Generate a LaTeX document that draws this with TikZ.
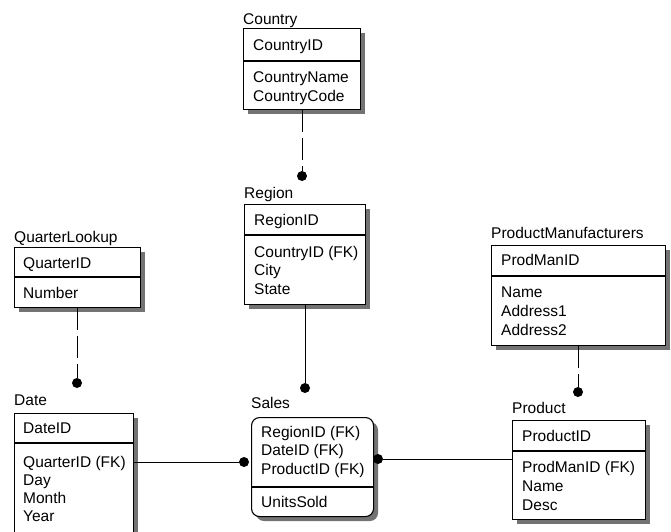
\documentclass[tikz,border=0pt]{standalone}
\usepackage{fontspec}
\setmainfont{Liberation Sans}
\begin{document}
\begin{tikzpicture}[x=1pt,y=-1pt,
  entity/.style={draw=black, fill=white, line width=1.1pt, inner sep=0pt, anchor=north west},
  shadowbox/.style={fill=black!55},
  title/.style={inner sep=0pt, anchor=base west, font=\fontsize{15.5}{18.5}\selectfont},
  field/.style={inner sep=0pt, anchor=base west, font=\fontsize{15.5}{18.5}\selectfont},
  divider/.style={line width=1.1pt},
  rel/.style={line width=1pt},
  relnon/.style={line width=1pt, dash pattern=on 22pt off 6pt},
  reldot/.style={circle, fill=black, inner sep=0pt, minimum size=10pt}]
\useasboundingbox (0,0) rectangle (671,531);
% ---------- shadows
\fill[shadowbox] (248,33) rectangle (365,114);
\fill[shadowbox] (249,209) rectangle (370,309);
\fill[shadowbox] (19,252) rectangle (145,312);
\fill[shadowbox] (19,418) rectangle (138,548);
\fill[shadowbox, rounded corners=8pt] (256,422) rectangle (378,521);
\fill[shadowbox] (496,250) rectangle (670,350);
\fill[shadowbox] (517,425) rectangle (650,524);
% ---------- Country
\node[title] (countryT) at (243,24) {Country};
\node[entity, minimum width=117pt, minimum height=81pt] (country) at (243,28) {};
\draw[divider] (country.west |- 0,61) -- (country.east |- 0,61);
\node[field] (c1) at (253,50) {CountryID};
\node[field] (c2) at (253,82) {CountryName};
\node[field] (c3) at (253,101) {CountryCode};
% ---------- Region
\node[title] (regionT) at (244,198) {Region};
\node[entity, minimum width=121pt, minimum height=100pt] (region) at (244,204) {};
\draw[divider] (region.west |- 0,235) -- (region.east |- 0,235);
\node[field] (r1) at (254,225) {RegionID};
\node[field] (r2) at (254,257) {CountryID (FK)};
\node[field] (r3) at (254,275) {City};
\node[field] (r4) at (254,294) {State};
% ---------- QuarterLookup
\node[title] (qlT) at (14,242) {QuarterLookup};
\node[entity, minimum width=126pt, minimum height=60pt] (ql) at (14,247) {};
\draw[divider] (ql.west |- 0,277) -- (ql.east |- 0,277);
\node[field] (q1) at (23,268) {QuarterID};
\node[field] (q2) at (23,298) {Number};
% ---------- Date
\node[title] (dateT) at (14,405) {Date};
\node[entity, minimum width=119pt, minimum height=130pt] (date) at (14,413) {};
\draw[divider] (date.west |- 0,443) -- (date.east |- 0,443);
\node[field] (dt1) at (23,433) {DateID};
\node[field] (dt2) at (23,467) {QuarterID (FK)};
\node[field] (dt3) at (23,485) {Day};
\node[field] (dt4) at (23,503) {Month};
\node[field] (dt5) at (23,521) {Year};
% ---------- Sales
\node[title] (salesT) at (251,408) {Sales};
\node[entity, rounded corners=8pt, minimum width=122pt, minimum height=99pt] (sales) at (251,417) {};
\draw[divider] (sales.west |- 0,487) -- (sales.east |- 0,487);
\node[field] (s1) at (261,437) {RegionID (FK)};
\node[field] (s2) at (261,455) {DateID (FK)};
\node[field] (s3) at (261,474) {ProductID (FK)};
\node[field] (s4) at (261,507) {UnitsSold};
% ---------- ProductManufacturers
\node[title] (pmT) at (491,238) {ProductManufacturers};
\node[entity, minimum width=174pt, minimum height=100pt] (pm) at (491,245) {};
\draw[divider] (pm.west |- 0,276) -- (pm.east |- 0,276);
\node[field] (pm1) at (501,265) {ProdManID};
\node[field] (pm2) at (501,297) {Name};
\node[field] (pm3) at (501,316) {Address1};
\node[field] (pm4) at (501,335) {Address2};
% ---------- Product
\node[title] (prodT) at (512,413) {Product};
\node[entity, minimum width=133pt, minimum height=99pt] (prod) at (512,420) {};
\draw[divider] (prod.west |- 0,451) -- (prod.east |- 0,451);
\node[field] (p1) at (522,441) {ProductID};
\node[field] (p2) at (522,472) {ProdManID (FK)};
\node[field] (p3) at (522,491) {Name};
\node[field] (p4) at (522,510) {Desc};
% ---------- relationships
\node[reldot] (dCR) at (302,176) {};
\draw[relnon] (country.south -| dCR) -- (dCR);
\node[reldot] (dRS) at (305,388) {};
\draw[rel] (region.south -| dRS) -- (dRS);
\node[reldot] (dQD) at (77,383) {};
\draw[relnon] (ql.south -| dQD) -- (dQD);
\node[reldot] (dDS) at (244,462) {};
\draw[rel] (date.east |- dDS) -- (dDS);
\node[reldot] (dPS) at (378,459) {};
\draw[rel] (prod.west |- dPS) -- (dPS);
\node[reldot] (dMP) at (578,392) {};
\draw[relnon] (pm.south -| dMP) -- (dMP);
\end{tikzpicture}
\end{document}
